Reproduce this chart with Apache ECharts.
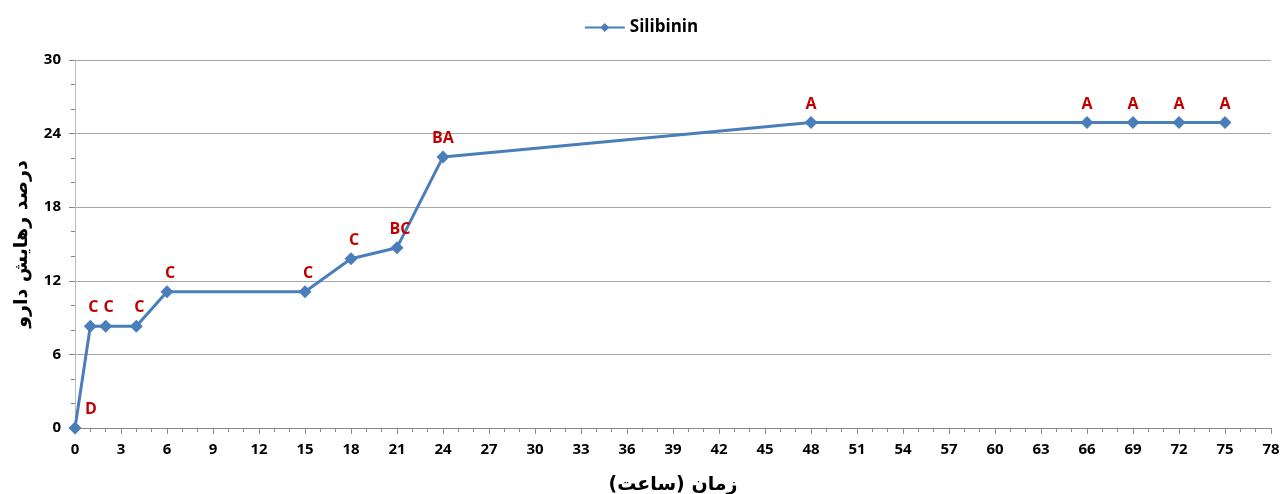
<!DOCTYPE html>
<html>
<head>
<meta charset="utf-8">
<script src="https://cdn.jsdelivr.net/npm/echarts@6/dist/echarts.min.js"></script>
<style>
  html, body { margin: 0; padding: 0; background: #fff; }
  #chart { width: 1282px; height: 494px; }
</style>
</head>
<body>
<div id="chart"></div>
<script>
let hours = [0, 1, 2, 4, 6, 15, 18, 21, 24, 48, 66, 69, 72, 75];
let release = [0, 8.3, 8.3, 8.3, 11.1, 11.1, 13.8, 14.7, 22.1, 24.9, 24.9, 24.9, 24.9, 24.9];
let letters = ['D', 'C', 'C', 'C', 'C', 'C', 'C', 'BC', 'BA', 'A', 'A', 'A', 'A', 'A'];

let font = '"Open Sans", "DejaVu Sans", sans-serif';

let option = {
    animation: false,
    textStyle: { fontFamily: font },
    legend: {
        top: 14,
        left: 'center',
        itemWidth: 40,
        itemHeight: 11,
        textStyle: { fontSize: 17, fontWeight: 'bold', color: '#000' },
        data: ['Silibinin']
    },
    grid: { left: 75, right: 11, top: 60, bottom: 66, outerBoundsMode: 'none', containLabel: false },
    xAxis: {
        type: 'value',
        min: 0,
        max: 78,
        interval: 3,
        name: 'زمان (ساعت)',
        nameLocation: 'middle',
        nameGap: 48,
        nameTextStyle: { fontSize: 19, fontWeight: 'bold', color: '#000', fontFamily: '"DejaVu Sans", sans-serif' },
        axisLine: { lineStyle: { color: '#888', width: 1 } },
        axisTick: { length: 6, lineStyle: { color: '#888' } },
        minorTick: { show: true, splitNumber: 3, length: 4, lineStyle: { color: '#888' } },
        axisLabel: { fontSize: 15, fontWeight: 'bold', color: '#000', margin: 14 },
        splitLine: { show: false }
    },
    yAxis: {
        type: 'value',
        min: 0,
        max: 30,
        interval: 6,
        name: 'درصد رهایش دارو',
        nameLocation: 'middle',
        nameRotate: 90,
        nameGap: 43,
        nameTextStyle: { fontSize: 19, fontWeight: 'bold', color: '#000', fontFamily: '"DejaVu Sans", sans-serif' },
        axisLine: { show: true, lineStyle: { color: '#bbb', width: 1 } },
        axisTick: { show: true, length: 6, lineStyle: { color: '#888' } },
        minorTick: { show: true, splitNumber: 3, length: 4, lineStyle: { color: '#888' } },
        axisLabel: { fontSize: 15, fontWeight: 'bold', color: '#000', margin: 14 },
        splitLine: { show: true, lineStyle: { color: '#a6a6a6', width: 1 } }
    },
    series: [
        {
            name: 'Silibinin',
            type: 'line',
            data: hours.map((h, i) => [h, release[i]]),
            symbol: 'diamond',
            symbolSize: 13,
            lineStyle: { color: '#4a7ebb', width: 3 },
            itemStyle: { color: '#4a7ebb' },
            label: {
                show: true,
                position: 'top',
                distance: 4,
                color: '#c00000',
                fontSize: 16,
                fontWeight: 'bold',
                formatter: p => letters[p.dataIndex]
            },
            labelLayout: p => p.dataIndex === 0 ? { dx: 16, dy: 0 } : (p.dataIndex < 8 ? { dx: 3 } : {})
        }
    ]
};

let myChart = echarts.init(document.getElementById('chart'));
myChart.setOption(option);
</script>
</body>
</html>
